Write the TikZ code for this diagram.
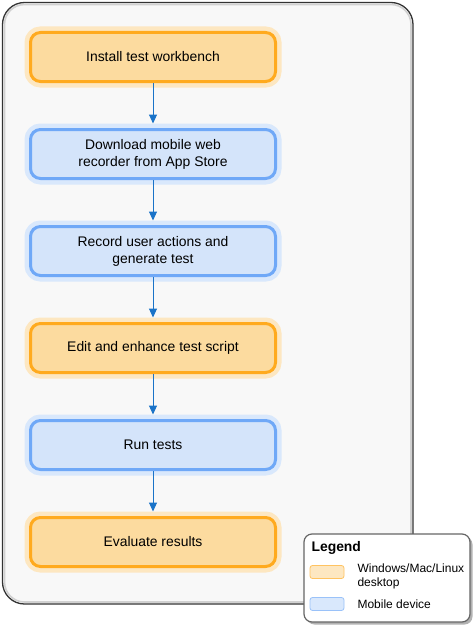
\documentclass[tikz,border=0pt]{standalone}
\usepackage{fontspec}
\setmainfont{Liberation Sans}
\usetikzlibrary{arrows.meta}
\definecolor{deskfill}{HTML}{FCDB9F}
\definecolor{deskline}{HTML}{FFAA1E}
\definecolor{deskhalo}{HTML}{FDE7C1}
\definecolor{mobfill}{HTML}{D4E4FA}
\definecolor{mobline}{HTML}{6FA8F7}
\definecolor{mobhalo}{HTML}{D9E8FC}
\definecolor{flowblue}{HTML}{1A73C8}
\definecolor{framebg}{HTML}{F8F8F8}

\begin{document}
\begin{tikzpicture}[x=1pt,y=-1pt,
    stepbox/.style={rounded corners=10pt,minimum width=245pt,minimum height=49pt,
      line width=3pt,align=center,font=\fontsize{13.9}{17}\selectfont},
    desk/.style={stepbox,fill=deskfill,draw=deskline,preaction={draw=deskhalo,line width=12pt}},
    mobile/.style={stepbox,fill=mobfill,draw=mobline,preaction={draw=mobhalo,line width=12pt}},
    flow/.style={draw=flowblue,line width=1pt,-{Triangle[width=8pt,length=9pt]},shorten >=4.5pt},
    swatch/.style={rounded corners=2.5pt,minimum width=34pt,minimum height=13pt,line width=.8pt},
    legtext/.style={anchor=west,align=left,font=\fontsize{12}{14}\selectfont}]
    \useasboundingbox (0,0) rectangle (474,626);
    % outer frame
    \draw[fill=framebg,draw=black!80,line width=1.3pt,rounded corners=22pt] (2.5,2.5) rectangle (413,604);
    \draw[black!18,line width=1.6pt,rounded corners=20pt] (4.5,4.5) rectangle (411,602);
    % steps
    \node[desk]   (install)  at (153,57)  {Install test workbench};
    \node[mobile] (download) at (153,154) {Download mobile web\\recorder from App Store};
    \node[mobile] (record)   at (153,251) {Record user actions and\\generate test};
    \node[desk]   (edit)     at (153,348) {Edit and enhance test script};
    \node[mobile] (run)      at (153,445) {Run tests};
    \node[desk]   (evaluate) at (153,542) {Evaluate results};
    \draw[flow] (install) -- (download);
    \draw[flow] (download) -- (record);
    \draw[flow] (record) -- (edit);
    \draw[flow] (edit) -- (run);
    \draw[flow] (run) -- (evaluate);
    % legend
    \fill[black!30,rounded corners=8pt] (306.5,536.5) rectangle (472.5,624.5);
    \draw[fill=white,draw=black!60,line width=1.2pt,rounded corners=8pt] (304,534) rectangle (470,622);
    \node[anchor=west,font=\fontsize{13.9}{16}\selectfont\bfseries] (legtitle) at (308,548) {Legend};
    \node[swatch,fill=deskhalo,draw=deskline!70] (deskkey) at (327,572) {};
    \node[swatch,fill=mobhalo,draw=mobline!70]   (mobkey)  at (327,604) {};
    \node[legtext] (desklabel) at (354,576) {Windows/Mac/Linux\\desktop};
    \node[legtext] (moblabel)  at (354,604) {Mobile device};
\end{tikzpicture}
\end{document}
